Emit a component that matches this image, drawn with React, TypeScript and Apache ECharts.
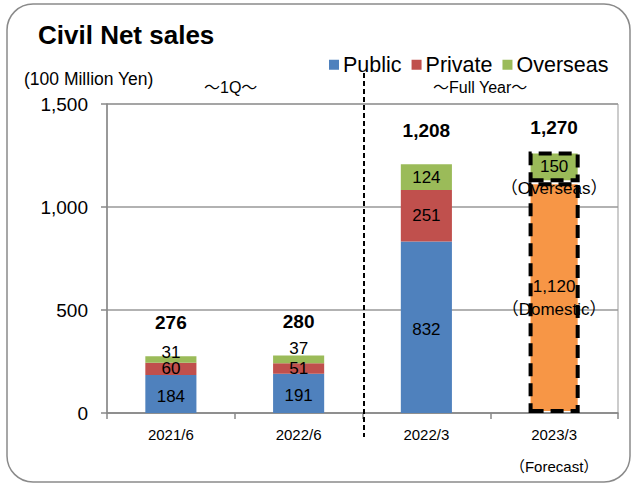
import React, { useEffect, useRef } from "react";
import * as echarts from "echarts";

const categories = ["2021/6", "2022/6", "2022/3", "2023/3"];
const publicValues = [184, 191, 832, null];
const privateValues = [60, 51, 251, null];
const overseasValues = [31, 37, 124, 150];
const domesticValues = [null, null, null, 1120];
const totals = [276, 280, 1208, 1270];
const yTicks = [0, 500, 1000, 1500];

const BLUE = "#4F81BD";
const RED = "#C0504D";
const GREEN = "#9BBB59";
const ORANGE = "#F79646";
const FONT = "'Liberation Sans', Arial, 'Noto Sans CJK JP', sans-serif";

const fmt = (v: number) => v.toLocaleString("en-US");

export default function App() {
  const ref = useRef<HTMLDivElement>(null);
  useEffect(() => {
    if (!ref.current) return;
    const chart = echarts.init(ref.current, null, { renderer: "svg" });
    const dashedBorder = {
      borderColor: "#000",
      borderWidth: 4,
      borderType: [13, 7] as any,
    };
    const innerLabel = { show: true, position: "inside", color: "#000", fontSize: 17, fontFamily: FONT };
    const option: any = {
      animation: false,
      textStyle: { fontFamily: FONT },
      title: {
        text: "Civil Net sales",
        left: 33,
        top: 17,
        textStyle: { fontSize: 26, fontWeight: "bold", color: "#000", fontFamily: FONT },
      },
      legend: {
        data: ["Public", "Private", "Overseas"],
        left: 324,
        top: 49,
        icon: "rect",
        itemWidth: 10,
        itemHeight: 10,
        itemGap: 10,
        textStyle: { fontSize: 21.5, color: "#000", fontFamily: FONT, padding: [0, 0, 0, -1] },
      },
      grid: {
        left: 107,
        right: 17,
        top: 104,
        bottom: 71,
        show: true,
        borderColor: "#999",
        borderWidth: 1,
      },
      xAxis: {
        type: "category",
        data: categories,
        axisLine: { lineStyle: { color: "#888", width: 1.5 } },
        axisTick: { show: true, length: 6, lineStyle: { color: "#888", width: 1.5 } },
        axisLabel: {
          color: "#000",
          fontSize: 15,
          margin: 13,
          fontFamily: FONT,
          lineHeight: 16,
          formatter: (v: string) => (v === "2023/3" ? "2023/3\n\n（Forecast）" : v),
        },
      },
      yAxis: {
        type: "value",
        min: yTicks[0],
        max: yTicks[yTicks.length - 1],
        interval: yTicks[1] - yTicks[0],
        axisLine: { show: true, lineStyle: { color: "#888", width: 1.5 } },
        axisTick: { show: true, length: 6, lineStyle: { color: "#888", width: 1.5 } },
        splitLine: { lineStyle: { color: "#999", width: 1.5 } },
        axisLabel: { color: "#000", fontSize: 19, margin: 19, fontFamily: FONT, formatter: (v: number) => fmt(v) },
        name: "(100 Million Yen)",
        nameLocation: "end",
        nameGap: 16,
        nameTextStyle: { color: "#000", fontSize: 17.5, fontFamily: FONT, align: "left", padding: [0, 0, 0, -83] },
      },
      graphic: [
        {
          type: "rect",
          shape: { x: 7, y: 4, width: 623, height: 478, r: 26 },
          style: { fill: "none", stroke: "#8a8a8a", lineWidth: 1.5 },
          z: -10,
        },
        {
          type: "line",
          shape: { x1: 364, y1: 73, x2: 364, y2: 437 },
          style: { stroke: "#000", lineWidth: 2, lineDash: [5, 3] },
          z: 10,
        },
        {
          type: "text",
          left: 204,
          top: 79,
          style: { text: "～1Q～", fontSize: 16, fill: "#000", fontFamily: FONT },
        },
        {
          type: "text",
          left: 433,
          top: 79,
          style: { text: "～Full Year～", fontSize: 16, fill: "#000", fontFamily: FONT },
        },
      ],
      series: [
        {
          name: "Public",
          type: "bar",
          stack: "s",
          barWidth: "40%",
          itemStyle: { color: BLUE },
          label: { ...innerLabel, offset: [0, 2] },
          data: publicValues.map((v) => (v == null ? "-" : v)),
        },
        {
          name: "Private",
          type: "bar",
          stack: "s",
          barWidth: "40%",
          itemStyle: { color: RED },
          label: { ...innerLabel },
          data: privateValues.map((v) => (v == null ? "-" : v)),
        },
        {
          name: "Domestic",
          type: "bar",
          stack: "s",
          barWidth: "40%",
          itemStyle: { color: ORANGE, ...dashedBorder },
          label: {
            ...innerLabel,
            lineHeight: 23,
            formatter: (p: any) => fmt(p.value) + "\n（Domestic）",
          },
          data: domesticValues.map((v) => (v == null ? "-" : v)),
        },
        {
          name: "Overseas",
          type: "bar",
          stack: "s",
          barWidth: "40%",
          itemStyle: { color: GREEN },
          label: { ...innerLabel },
          data: overseasValues.map((v, i) => {
            if (i === 3) {
              return {
                value: v,
                itemStyle: { color: GREEN, ...dashedBorder },
                label: {
                  ...innerLabel,
                  lineHeight: 22,
                  offset: [0, 11],
                  formatter: (p: any) => fmt(p.value) + "\n（Overseas）",
                },
              };
            }
            if (v < 60) return { value: v, label: { ...innerLabel, offset: [0, i === 0 ? -7 : -11] } };
            return v;
          }),
        },
        {
          name: "Total",
          type: "bar",
          barWidth: "40%",
          barGap: "-100%",
          itemStyle: { color: "rgba(0,0,0,0)" },
          z: -1,
          label: {
            show: true,
            position: "top",
            distance: 24,
            color: "#000",
            fontSize: 19,
            fontWeight: "bold",
            fontFamily: FONT,
            formatter: (p: any) => fmt(p.value),
          },
          data: totals.map((v, i) => (i === 3 ? { value: v, label: { distance: 14 } } : v)),
        },
      ],
    };
    chart.setOption(option);
    return () => chart.dispose();
  }, []);
  return (
    <div
      ref={ref}
      style={{ position: "fixed", left: 0, top: 0, width: 635, height: 484, background: "#fff" }}
    />
  );
}
